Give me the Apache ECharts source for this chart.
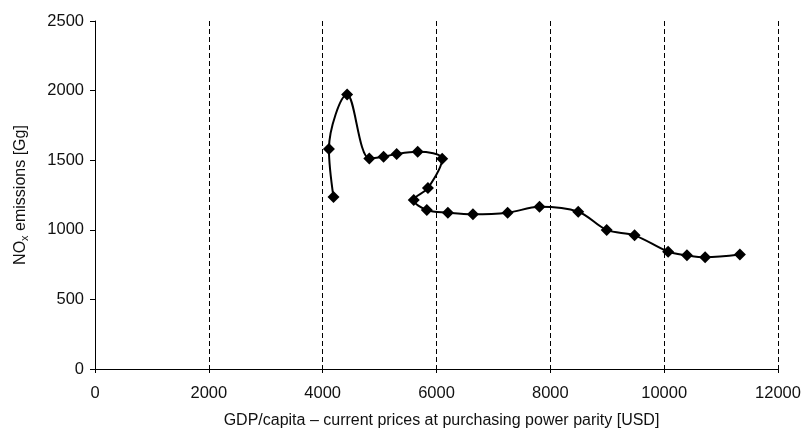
<!DOCTYPE html>
<html>
<head>
<meta charset="utf-8">
<script src="https://cdn.jsdelivr.net/npm/echarts@6/dist/echarts.min.js"></script>
<style>
  html, body { margin: 0; padding: 0; background: #fff; }
  #chart { width: 807px; height: 438px; }
</style>
</head>
<body>
<div id="chart"></div>
<script>
// GDP per capita (USD, PPP) and NOx emissions (Gg), in time order
const gdpPerCapita = [4190, 4110, 4430, 4820, 5070, 5300, 5670, 6100, 5850, 5600, 5830, 6200, 6640, 7250, 7810, 8490, 8990, 9480, 10070, 10400, 10720, 11330];
const noxEmissions = [1235, 1580, 1972, 1512, 1525, 1545, 1560, 1510, 1300, 1214, 1142, 1123, 1111, 1123, 1165, 1130, 999, 960, 843, 817, 803, 822];

const xTicks = [0, 2000, 4000, 6000, 8000, 10000, 12000];
const yTicks = [0, 500, 1000, 1500, 2000, 2500];

const points = gdpPerCapita.map((g, i) => [g, noxEmissions[i]]);

const font = 'Liberation Sans, Arial, sans-serif';
const plain = v => String(v);
const chart = echarts.init(document.getElementById('chart'), null, { renderer: 'canvas' });

chart.setOption({
  animation: false,
  backgroundColor: '#ffffff',
  grid: { left: 95, right: 29, top: 21, bottom: 69, containLabel: false },
  xAxis: {
    type: 'value',
    min: xTicks[0],
    max: xTicks[xTicks.length - 1],
    interval: xTicks[1] - xTicks[0],
    name: 'GDP/capita – current prices at purchasing power parity [USD]',
    nameLocation: 'middle',
    nameGap: 44,
    nameTextStyle: { fontFamily: font, fontSize: 16, color: '#111', padding: [0, 0, 0, 10] },
    axisLine: { show: true, lineStyle: { color: '#000', width: 1 } },
    axisTick: { show: true, length: 4, lineStyle: { color: '#000' } },
    axisLabel: { fontFamily: font, fontSize: 16.5, color: '#111', margin: 16, formatter: plain },
    splitLine: {
      show: true,
      showMinLine: false,
      lineStyle: { color: '#000', width: 1, type: [5, 3] }
    }
  },
  yAxis: {
    type: 'value',
    min: yTicks[0],
    max: yTicks[yTicks.length - 1],
    interval: yTicks[1] - yTicks[0],
    name: '{a|NO}{sub|x}{a| emissions [Gg]}',
    nameLocation: 'middle',
    nameRotate: 90,
    nameGap: 65,
    nameTextStyle: {
      fontFamily: font, fontSize: 16, color: '#111',
      rich: {
        a: { fontFamily: font, fontSize: 16, color: '#111', lineHeight: 19, verticalAlign: 'middle' },
        sub: { fontFamily: font, fontSize: 11, color: '#111', lineHeight: 8, verticalAlign: 'bottom' }
      }
    },
    axisLine: { show: true, lineStyle: { color: '#000', width: 1 } },
    axisTick: { show: true, length: 5, lineStyle: { color: '#000' } },
    axisLabel: { fontFamily: font, fontSize: 16.5, color: '#111', margin: 11, formatter: plain },
    splitLine: { show: false }
  },
  series: [{
    type: 'line',
    data: points,
    smooth: 0.35,
    symbol: 'diamond',
    symbolSize: [12, 12],
    itemStyle: { color: '#000' },
    lineStyle: { color: '#000', width: 2 },
    z: 5
  }]
});
</script>
</body>
</html>
